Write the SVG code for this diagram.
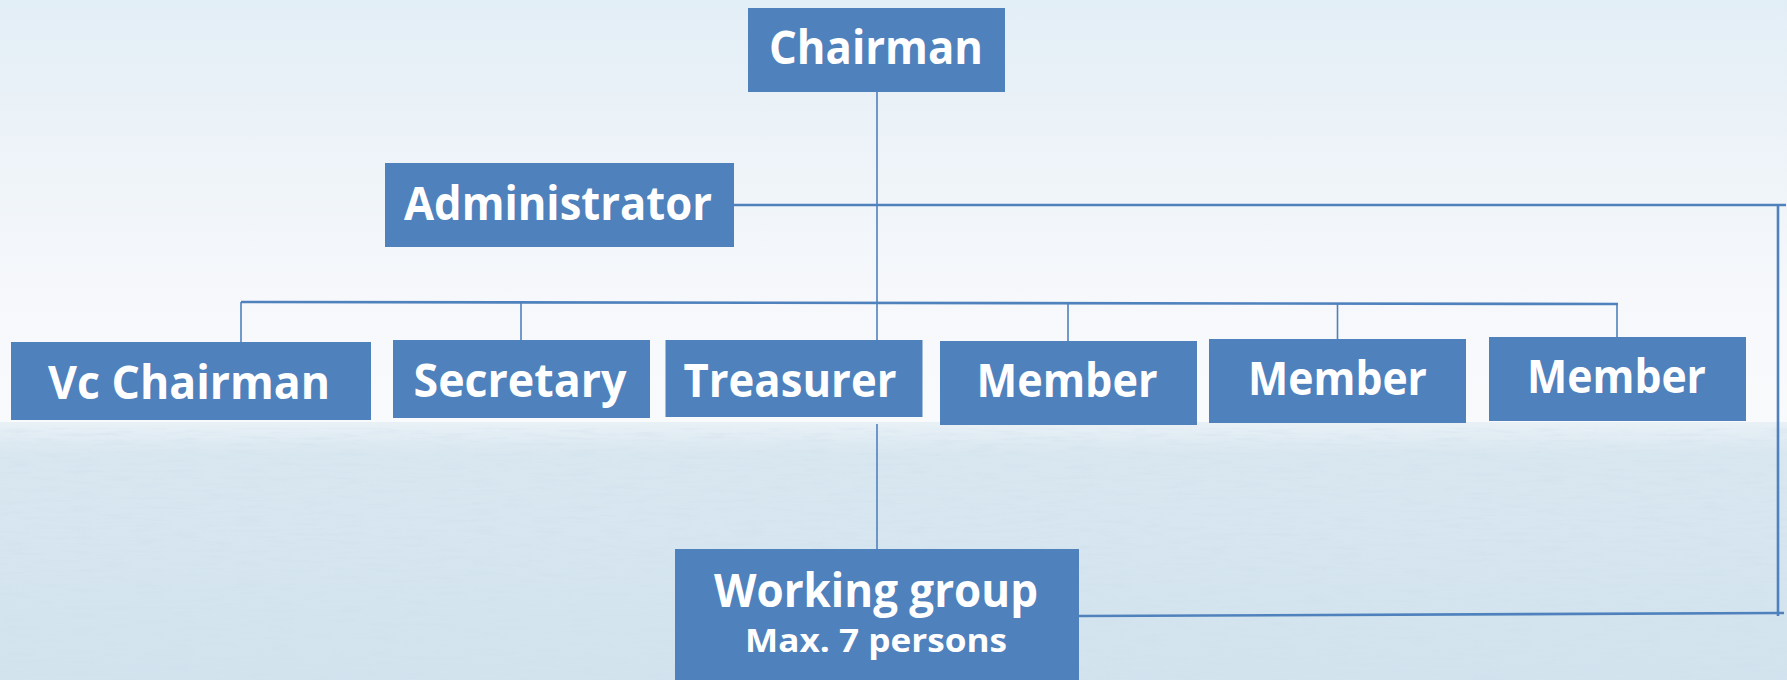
<svg xmlns="http://www.w3.org/2000/svg" width="1787" height="680" viewBox="0 0 1787 680">
  <defs>
    <linearGradient id="sky" x1="0" y1="0" x2="0" y2="1">
      <stop offset="0" stop-color="#e2eef6"/>
      <stop offset="0.35" stop-color="#edf3f8"/>
      <stop offset="0.7" stop-color="#f6f8fb"/>
      <stop offset="1" stop-color="#f9fafc"/>
    </linearGradient>
    <linearGradient id="sea" x1="0" y1="0" x2="0" y2="1">
      <stop offset="0" stop-color="#e9f1f6"/>
      <stop offset="0.12" stop-color="#d9e7f0"/>
      <stop offset="1" stop-color="#d2e3ee"/>
    </linearGradient>
    <filter id="waves" x="0" y="0" width="100%" height="100%">
      <feTurbulence type="fractalNoise" baseFrequency="0.03 0.3" numOctaves="3" seed="4" result="n"/>
      <feColorMatrix in="n" type="matrix" values="0 0 0 0 0.62  0 0 0 0 0.74  0 0 0 0 0.83  1.6 0 0 0 -0.75"/>
    </filter>
    <style>
      .box { fill: #4f81bd; }
      .lbl { font-family: "Open Sans", "DejaVu Sans", sans-serif; font-weight: bold; fill: #ffffff; text-anchor: middle; font-size: 46px; }
      .sub { font-size: 33px; }
      .ln { stroke: #4f81bd; fill: none; stroke-width: 1.6; }
      .thick { stroke-width: 2.6; }
    </style>
  </defs>

  <g id="background">
    <rect x="0" y="0" width="1787" height="424" fill="url(#sky)"/>
    <rect x="0" y="422" width="1787" height="258" fill="url(#sea)"/>
    <rect x="0" y="428" width="1787" height="252" filter="url(#waves)" opacity="0.6"/>
  </g>

  <g id="connectors">
    <line class="ln" x1="877" y1="92" x2="877" y2="340"/>
    <line class="ln thick" x1="734" y1="205" x2="1786" y2="205"/>
    <line class="ln thick" x1="1778" y1="205" x2="1778" y2="616"/>
    <line class="ln thick" x1="1079" y1="616" x2="1784" y2="613"/>
    <line class="ln thick" x1="241" y1="302" x2="1618" y2="304"/>
    <line class="ln" x1="241" y1="302" x2="241" y2="342"/>
    <line class="ln" x1="521" y1="302" x2="521" y2="340"/>
    <line class="ln" x1="1068" y1="303" x2="1068" y2="341"/>
    <line class="ln" x1="1337.5" y1="304" x2="1337.5" y2="339"/>
    <line class="ln" x1="1617" y1="304" x2="1617" y2="337"/>
    <line class="ln" x1="877" y1="424" x2="877" y2="549"/>
  </g>

  <g id="chairman">
    <rect class="box" x="748" y="8" width="257" height="84"/>
    <text class="lbl" x="876" y="64" textLength="214" lengthAdjust="spacingAndGlyphs">Chairman</text>
  </g>
  <g id="administrator">
    <rect class="box" x="385" y="163" width="349" height="84"/>
    <text class="lbl" x="558" y="220" textLength="308" lengthAdjust="spacingAndGlyphs">Administrator</text>
  </g>
  <g id="vc-chairman">
    <rect class="box" x="11" y="342" width="360" height="78"/>
    <text class="lbl" x="189" y="399" textLength="282" lengthAdjust="spacingAndGlyphs">Vc Chairman</text>
  </g>
  <g id="secretary">
    <rect class="box" x="393" y="340" width="257" height="78"/>
    <text class="lbl" x="520" y="397" textLength="213" lengthAdjust="spacingAndGlyphs">Secretary</text>
  </g>
  <g id="treasurer">
    <rect class="box" x="665.5" y="340" width="257" height="77"/>
    <text class="lbl" x="790" y="397" textLength="213" lengthAdjust="spacingAndGlyphs">Treasurer</text>
  </g>
  <g id="member-1">
    <rect class="box" x="940" y="341" width="257" height="84"/>
    <text class="lbl" x="1067" y="397" textLength="181" lengthAdjust="spacingAndGlyphs">Member</text>
  </g>
  <g id="member-2">
    <rect class="box" x="1209" y="339" width="257" height="84"/>
    <text class="lbl" x="1337.5" y="395" textLength="179" lengthAdjust="spacingAndGlyphs">Member</text>
  </g>
  <g id="member-3">
    <rect class="box" x="1489" y="337" width="257" height="84"/>
    <text class="lbl" x="1616.5" y="393" textLength="179" lengthAdjust="spacingAndGlyphs">Member</text>
  </g>
  <g id="working-group">
    <rect class="box" x="675" y="549" width="404" height="135"/>
    <text class="lbl" x="876" y="607" textLength="324" lengthAdjust="spacingAndGlyphs">Working group</text>
    <text class="lbl sub" x="876" y="652" textLength="262" lengthAdjust="spacingAndGlyphs">Max. 7 persons</text>
  </g>
</svg>
